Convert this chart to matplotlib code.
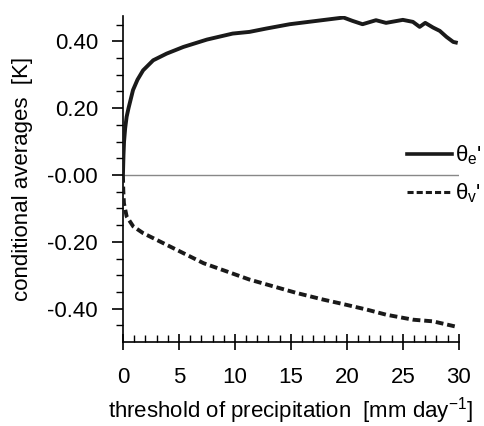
import numpy as np
import matplotlib.pyplot as plt
from matplotlib.lines import Line2D

plt.rcParams['font.family'] = ['Liberation Sans', 'DejaVu Sans']
plt.rcParams['mathtext.fontset'] = 'custom'
plt.rcParams['mathtext.rm'] = 'Liberation Sans'

# threshold of precipitation [mm/day] and conditional averages [K]
thr_e = [0.0, 0.05, 0.1, 0.2, 0.33, 0.5, 0.9, 1.3, 1.8, 2.7, 3.9, 5.4, 7.5,
         9.8, 11.3, 12.8, 14.9, 17.3, 18.5, 19.7, 20.5, 21.4, 22.6, 23.5,
         25.0, 25.9, 26.5, 27.0, 27.7, 28.3, 28.9, 29.5, 29.9]
theta_e = [0.0, 0.06, 0.10, 0.14, 0.174, 0.20, 0.254, 0.285, 0.313, 0.343,
           0.363, 0.383, 0.405, 0.423, 0.428, 0.438, 0.451, 0.461, 0.466,
           0.471, 0.461, 0.451, 0.463, 0.455, 0.464, 0.458, 0.443, 0.455,
           0.441, 0.431, 0.413, 0.398, 0.395]

thr_v = [0.0, 0.03, 0.09, 0.33, 0.92, 1.8, 3.3, 5.1, 7.2, 9.3, 11.3, 13.4,
         15.5, 17.9, 19.5, 21.8, 23.5, 25.9, 27.7, 29.9]
theta_v = [0.0, -0.045, -0.085, -0.124, -0.154, -0.174, -0.199, -0.229,
           -0.264, -0.289, -0.313, -0.333, -0.353, -0.373, -0.385, -0.403,
           -0.418, -0.433, -0.438, -0.455]

yticks = [0.4, 0.2, 0.0, -0.2, -0.4]
yticklabels = ['0.40', '0.20', '-0.00', '-0.20', '-0.40']
xticks = [0, 5, 10, 15, 20, 25, 30]

fs = 16
fig = plt.figure(figsize=(4.84, 4.26), dpi=100)
ax = fig.add_axes([0.254, 0.197, 0.694, 0.765])

ax.axhline(0, color='#888888', lw=1.0, zorder=1)
ax.plot(thr_e, theta_e, color='#1a1a1a', lw=2.8, solid_capstyle='butt', zorder=3)
ax.plot(thr_v, theta_v, color='#1a1a1a', lw=2.8, ls=(0, (2.0, 1.0)), zorder=3)

ax.set_xlim(0, 30)
ax.set_ylim(-0.5, 0.475)
for s in ['top', 'right']:
    ax.spines[s].set_visible(False)
ax.spines['left'].set_linewidth(1.2)
ax.spines['bottom'].set_linewidth(1.2)

ax.set_yticks(yticks)
ax.set_yticklabels(yticklabels)
ax.set_yticks(np.arange(-0.45, 0.48, 0.05), minor=True)
ax.set_xticks(xticks)
ax.set_xticks(np.arange(0, 31, 1), minor=True)

ax.tick_params(axis='y', which='major', direction='out', length=8, width=1.2,
               pad=10, labelsize=fs)
ax.tick_params(axis='y', which='minor', direction='out', length=5, width=1.0)
ax.tick_params(axis='x', which='major', direction='inout', length=12, width=1.2,
               pad=12, labelsize=fs)
ax.tick_params(axis='x', which='minor', direction='in', length=5, width=1.0)

ax.set_ylabel('conditional averages  [K]', fontsize=fs, labelpad=10)
ax.set_xlabel('threshold of precipitation  [mm day$^{-1}$]', fontsize=fs,
              labelpad=5)

handles = [Line2D([], [], color='#1a1a1a', lw=2.6),
           Line2D([], [], color='#1a1a1a', lw=2.2, ls=(0, (2.0, 1.0)))]
ax.legend(handles, ["θ$_\\mathrm{e}$'", "θ$_\\mathrm{v}$'"], loc='center right',
          bbox_to_anchor=(1.115, 0.515), frameon=False, fontsize=fs,
          handlelength=2.0, handletextpad=0.15, labelspacing=0.65,
          borderpad=0.2)

fig.savefig('out.png', dpi=100)
